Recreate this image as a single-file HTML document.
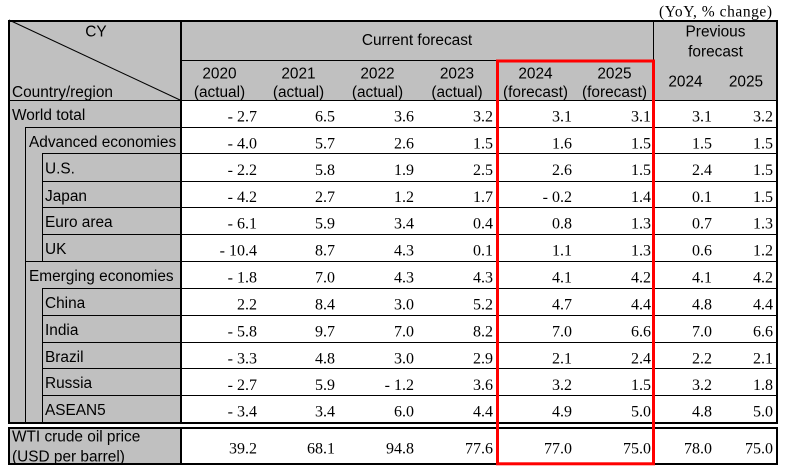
<!DOCTYPE html>
<html><head><meta charset="utf-8"><style>
html,body{margin:0;padding:0;background:#fff;}
svg{display:block;}
.s{font-family:"Liberation Sans",Arial,sans-serif;font-size:15.4px;fill:#000;}
.n{font-family:"Liberation Serif","Times New Roman",serif;font-size:16px;fill:#000;text-anchor:end;}
.c{text-anchor:middle;}
</style></head><body>
<svg width="785" height="476" viewBox="0 0 785 476" xmlns="http://www.w3.org/2000/svg">
<rect x="0" y="0" width="785" height="476" fill="#fff"/>
<text x="659" y="16.7" textLength="113" lengthAdjust="spacing" style="font-family:'Liberation Serif',serif;font-size:15.5px;">(YoY, % change)</text>
<!-- backgrounds -->
<rect x="9" y="20" width="768" height="80" fill="#C0C0C0"/>
<rect x="9" y="100" width="171" height="322" fill="#C0C0C0"/>
<rect x="9" y="427" width="171" height="38" fill="#C0C0C0"/>
<!-- lines -->
<g fill="#000">
<rect x="8" y="20" width="770" height="2"/>
<rect x="8" y="422" width="770" height="2"/>
<rect x="8" y="20" width="2" height="404"/>
<rect x="776" y="20" width="2" height="404"/>
<rect x="180" y="20" width="2" height="404"/>
<rect x="180" y="60" width="474" height="1"/>
<rect x="653" y="20" width="1" height="402"/>
<rect x="9" y="100" width="768" height="1"/>
<rect x="25" y="127" width="752" height="1"/>
<rect x="42" y="153" width="735" height="1"/>
<rect x="42" y="181" width="735" height="1"/>
<rect x="42" y="207" width="735" height="1"/>
<rect x="42" y="234" width="735" height="1"/>
<rect x="25" y="261" width="752" height="1"/>
<rect x="42" y="288" width="735" height="1"/>
<rect x="42" y="315" width="735" height="1"/>
<rect x="42" y="342" width="735" height="1"/>
<rect x="42" y="368" width="735" height="1"/>
<rect x="42" y="395" width="735" height="1"/>
<rect x="25" y="127" width="1" height="296"/>
<rect x="42" y="153" width="1" height="108"/>
<rect x="42" y="288" width="1" height="135"/>
<!-- WTI box -->
<rect x="8" y="427" width="770" height="2"/>
<rect x="8" y="463" width="770" height="2"/>
<rect x="8" y="427" width="2" height="38"/>
<rect x="776" y="427" width="2" height="38"/>
<rect x="180" y="427" width="2" height="38"/>
</g>
<line x1="9" y1="20" x2="180" y2="100" stroke="#000" stroke-width="1"/>
<!-- header text -->
<text class="s c" x="96" y="36.7">CY</text>
<text class="s" x="12" y="97">Country/region</text>
<text class="s c" x="417" y="45">Current forecast</text>
<text class="s c" x="715.5" y="36.7">Previous</text>
<text class="s c" x="715.5" y="56.7">forecast</text>
<g class="s c">
<text class="s c" x="219.5" y="78.3">2020</text><text class="s c" x="219.5" y="97">(actual)</text>
<text class="s c" x="298.5" y="78.3">2021</text><text class="s c" x="298.5" y="97">(actual)</text>
<text class="s c" x="377.5" y="78.3">2022</text><text class="s c" x="377.5" y="97">(actual)</text>
<text class="s c" x="457" y="78.3">2023</text><text class="s c" x="457" y="97">(actual)</text>
<text class="s c" x="535.5" y="78.3">2024</text><text class="s c" x="535.5" y="97">(forecast)</text>
<text class="s c" x="614.5" y="78.3">2025</text><text class="s c" x="614.5" y="97">(forecast)</text>
<text class="s c" x="685.5" y="86.7">2024</text>
<text class="s c" x="746" y="86.7">2025</text>
</g>
<!-- row labels -->
<text class="s" x="12" y="119.8">World total</text>
<text class="s" x="29" y="146.8">Advanced economies</text>
<text class="s" x="45" y="173.5">U.S.</text>
<text class="s" x="45" y="200.8">Japan</text>
<text class="s" x="45" y="226.8">Euro area</text>
<text class="s" x="45" y="253.8">UK</text>
<text class="s" x="29" y="280.8">Emerging economies</text>
<text class="s" x="45" y="307.8">China</text>
<text class="s" x="45" y="334.8">India</text>
<text class="s" x="45" y="361.8">Brazil</text>
<text class="s" x="45" y="387.8">Russia</text>
<text class="s" x="45" y="414.8">ASEAN5</text>
<text class="s" x="12" y="441.5">WTI crude oil price</text>
<text class="s" x="12" y="461.5">(USD per barrel)</text>
<!-- numbers -->
<g class="n">
<text class="n" x="257" y="121.5">- 2.7</text><text class="n" x="335" y="121.5">6.5</text><text class="n" x="414" y="121.5">3.6</text><text class="n" x="493" y="121.5">3.2</text><text class="n" x="572" y="121.5">3.1</text><text class="n" x="651" y="121.5">3.1</text><text class="n" x="712" y="121.5">3.1</text><text class="n" x="773" y="121.5">3.2</text>
<text class="n" x="257" y="148.5">- 4.0</text><text class="n" x="335" y="148.5">5.7</text><text class="n" x="414" y="148.5">2.6</text><text class="n" x="493" y="148.5">1.5</text><text class="n" x="572" y="148.5">1.6</text><text class="n" x="651" y="148.5">1.5</text><text class="n" x="712" y="148.5">1.5</text><text class="n" x="773" y="148.5">1.5</text>
<text class="n" x="257" y="175">- 2.2</text><text class="n" x="335" y="175">5.8</text><text class="n" x="414" y="175">1.9</text><text class="n" x="493" y="175">2.5</text><text class="n" x="572" y="175">2.6</text><text class="n" x="651" y="175">1.5</text><text class="n" x="712" y="175">2.4</text><text class="n" x="773" y="175">1.5</text>
<text class="n" x="257" y="202">- 4.2</text><text class="n" x="335" y="202">2.7</text><text class="n" x="414" y="202">1.2</text><text class="n" x="493" y="202">1.7</text><text class="n" x="572" y="202">- 0.2</text><text class="n" x="651" y="202">1.4</text><text class="n" x="712" y="202">0.1</text><text class="n" x="773" y="202">1.5</text>
<text class="n" x="257" y="228.5">- 6.1</text><text class="n" x="335" y="228.5">5.9</text><text class="n" x="414" y="228.5">3.4</text><text class="n" x="493" y="228.5">0.4</text><text class="n" x="572" y="228.5">0.8</text><text class="n" x="651" y="228.5">1.3</text><text class="n" x="712" y="228.5">0.7</text><text class="n" x="773" y="228.5">1.3</text>
<text class="n" x="257" y="255.5">- 10.4</text><text class="n" x="335" y="255.5">8.7</text><text class="n" x="414" y="255.5">4.3</text><text class="n" x="493" y="255.5">0.1</text><text class="n" x="572" y="255.5">1.1</text><text class="n" x="651" y="255.5">1.3</text><text class="n" x="712" y="255.5">0.6</text><text class="n" x="773" y="255.5">1.2</text>
<text class="n" x="257" y="282.5">- 1.8</text><text class="n" x="335" y="282.5">7.0</text><text class="n" x="414" y="282.5">4.3</text><text class="n" x="493" y="282.5">4.3</text><text class="n" x="572" y="282.5">4.1</text><text class="n" x="651" y="282.5">4.2</text><text class="n" x="712" y="282.5">4.1</text><text class="n" x="773" y="282.5">4.2</text>
<text class="n" x="257" y="309.5">2.2</text><text class="n" x="335" y="309.5">8.4</text><text class="n" x="414" y="309.5">3.0</text><text class="n" x="493" y="309.5">5.2</text><text class="n" x="572" y="309.5">4.7</text><text class="n" x="651" y="309.5">4.4</text><text class="n" x="712" y="309.5">4.8</text><text class="n" x="773" y="309.5">4.4</text>
<text class="n" x="257" y="336.5">- 5.8</text><text class="n" x="335" y="336.5">9.7</text><text class="n" x="414" y="336.5">7.0</text><text class="n" x="493" y="336.5">8.2</text><text class="n" x="572" y="336.5">7.0</text><text class="n" x="651" y="336.5">6.6</text><text class="n" x="712" y="336.5">7.0</text><text class="n" x="773" y="336.5">6.6</text>
<text class="n" x="257" y="363.3">- 3.3</text><text class="n" x="335" y="363.3">4.8</text><text class="n" x="414" y="363.3">3.0</text><text class="n" x="493" y="363.3">2.9</text><text class="n" x="572" y="363.3">2.1</text><text class="n" x="651" y="363.3">2.4</text><text class="n" x="712" y="363.3">2.2</text><text class="n" x="773" y="363.3">2.1</text>
<text class="n" x="257" y="389.8">- 2.7</text><text class="n" x="335" y="389.8">5.9</text><text class="n" x="414" y="389.8">- 1.2</text><text class="n" x="493" y="389.8">3.6</text><text class="n" x="572" y="389.8">3.2</text><text class="n" x="651" y="389.8">1.5</text><text class="n" x="712" y="389.8">3.2</text><text class="n" x="773" y="389.8">1.8</text>
<text class="n" x="257" y="416.5">- 3.4</text><text class="n" x="335" y="416.5">3.4</text><text class="n" x="414" y="416.5">6.0</text><text class="n" x="493" y="416.5">4.4</text><text class="n" x="572" y="416.5">4.9</text><text class="n" x="651" y="416.5">5.0</text><text class="n" x="712" y="416.5">4.8</text><text class="n" x="773" y="416.5">5.0</text>
<text class="n" x="257" y="453.5">39.2</text><text class="n" x="335" y="453.5">68.1</text><text class="n" x="414" y="453.5">94.8</text><text class="n" x="493" y="453.5">77.6</text><text class="n" x="572" y="453.5">77.0</text><text class="n" x="651" y="453.5">75.0</text><text class="n" x="712" y="453.5">78.0</text><text class="n" x="773" y="453.5">75.0</text>
</g>
<!-- red highlight box -->
<rect x="497.5" y="61" width="156" height="402.8" fill="none" stroke="#FF0000" stroke-width="3"/>
</svg>
</body></html>
